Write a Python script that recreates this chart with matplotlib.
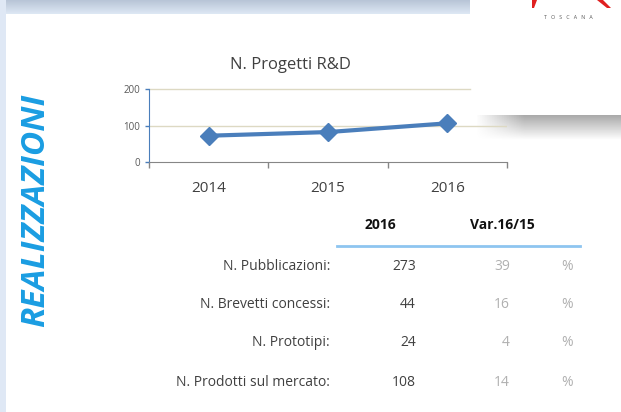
#grafico realizzazioni R&D
import numpy as np
import matplotlib
matplotlib.use("Agg")
import matplotlib.pyplot as plt
from matplotlib.patches import Rectangle, Polygon

plt.rcParams['font.family'] = ['Open Sans', 'DejaVu Sans']

#dati del grafico
anni = ["2014", "2015", "2016"]
progetti = [72, 82, 106]

#dati della tabella
voci = ["N. Pubblicazioni:", "N. Brevetti concessi:", "N. Prototipi:", "N. Prodotti sul mercato:"]
valori_2016 = [273, 44, 24, 108]
variazioni = [39, 16, 4, 14]

W, H = 621, 412

def px(x, y):
    #converte pixel in coordinate della figura
    return x / W, 1 - y / H

fig = plt.figure(figsize=(W / 100, H / 100), dpi=100)

#sfondo e decorazioni della slide
bg = fig.add_axes([0, 0, 1, 1], zorder=0)
bg.axis("off")

#banda superiore
grad = np.linspace(0, 1, 50)[:, None]
top = np.array([0.72, 0.77, 0.84])
bot = np.array([0.87, 0.91, 0.96])
band = top + (bot - top) * grad[:, :, None]
bg.imshow(band, extent=[0, 470, 14, 0], aspect="auto")
#striscia sinistra
bg.add_patch(Rectangle((0, 0), 6, H, color="#dfe8f5", lw=0))

#ombra a destra
ombra = np.ones((40, 60, 4))
ombra[:, :, :3] = 0.55
a_y = np.linspace(0.75, 0, 40)[:, None]
a_x = np.clip(np.linspace(0, 3, 60), 0, 1)[None, :]
ombra[:, :, 3] = a_y * a_x
bg.imshow(ombra, extent=[475, W, 140, 115], aspect="auto")

#logo
bg.add_patch(Polygon([[532, 0], [537, 0], [534, 8], [532, 8]], color="#e02020", lw=0))
bg.add_patch(Polygon([[597, 0], [603, 0], [611, 8], [607, 8]], color="#e02020", lw=0))
bg.text(568, 17, "T   O   S   C   A   N   A", fontsize=3.8, color="#555555", ha="center", va="center")
bg.set_xlim(0, W)
bg.set_ylim(H, 0)

#testo verticale
fig.text(*px(36, 210), "REALIZZAZIONI", rotation=90, ha="center", va="center",
         fontsize=24, fontweight="bold", fontstyle="italic", color="#1a9de2")

#grafico a linee
x0, x1, y0, y1 = 149, 507, 89, 162
ax = fig.add_axes([x0 / W, 1 - y1 / H, (x1 - x0) / W, (y1 - y0) / H], zorder=2)
ax.patch.set_alpha(0)
pos = np.arange(len(anni))
ax.axhline(100, color="#ddd9c3", lw=1, zorder=1)
ax.axhline(200, xmax=(470 - x0) / (x1 - x0), color="#ddd9c3", lw=1, zorder=1, clip_on=False)
ax.plot(pos, progetti, color="#4a7ebb", lw=3, marker="D", markersize=9, zorder=3)
ax.set_xlim(-0.5, 2.5)
ax.set_ylim(0, 200)
ax.set_yticks([0, 100, 200])
ax.tick_params(axis="y", labelsize=7, labelcolor="#595959", color="#4a7ebb", length=3, width=1)
ax.set_xticks([-0.5, 0.5, 1.5, 2.5])
ax.set_xticklabels([])
ax.set_xticks(pos, minor=True)
ax.set_xticklabels(anni, minor=True)
ax.tick_params(axis="x", which="major", color="#868686", length=4, width=1)
ax.tick_params(axis="x", which="minor", length=0, labelsize=11, labelcolor="#404040", pad=14)
for s in ["top", "right"]:
    ax.spines[s].set_visible(False)
ax.spines["left"].set_color("#4a7ebb")
ax.spines["bottom"].set_color("#868686")

fig.text(*px(290, 65), "N. Progetti R&D", ha="center", va="center", fontsize=12, color="#404040")

#tabella
fig.text(*px(380, 225), "2016", ha="center", va="center", fontsize=10, fontweight="bold", color="#111111")
fig.text(*px(502, 225), "Var.16/15", ha="center", va="center", fontsize=10, fontweight="bold", color="#111111")
bg.plot([337, 580], [246, 246], color="#8ec5f0", lw=2)

righe_y = [266, 305, 343, 382]
for yy, voce, v, var in zip(righe_y, voci, valori_2016, variazioni):
    fig.text(*px(330, yy), voce, ha="right", va="center", fontsize=10, color="#404040")
    fig.text(*px(416, yy), str(v), ha="right", va="center", fontsize=10, color="#404040")
    fig.text(*px(510, yy), str(var), ha="right", va="center", fontsize=10, color="#b0b0b0")
    fig.text(*px(567, yy), "%", ha="center", va="center", fontsize=10, color="#b0b0b0")

fig.savefig("out.png", dpi=100)
